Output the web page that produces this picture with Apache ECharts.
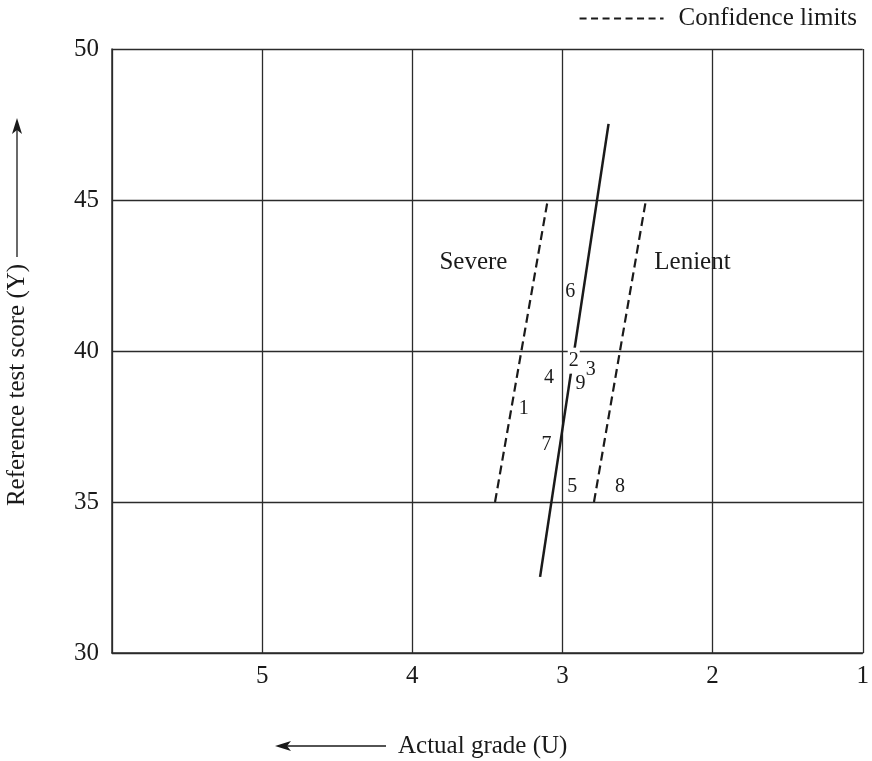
<!DOCTYPE html>
<html>
<head>
<meta charset="utf-8">
<script src="https://cdn.jsdelivr.net/npm/echarts@6/dist/echarts.min.js"></script>
<style>
html,body{margin:0;padding:0;background:#fff;}
#chart{width:872px;height:761px;}
</style>
</head>
<body>
<div id="chart"></div>
<script>
// ---- data ----
const xMin = 1, xMax = 6, xStep = 1;
const yMin = 30, yMax = 50, yStep = 5;
const regressionLine = [[3.149, 32.52], [2.693, 47.52]];
const severeLimit = [[3.449, 35], [3.098, 45]];
const lenientLimit = [[2.790, 35], [2.444, 45]];
const pointLabels = ['1', '2', '3', '4', '5', '6', '7', '8', '9'];
const pointX = [3.257, 2.925, 2.812, 3.089, 2.934, 2.948, 3.107, 2.616, 2.879];
const pointY = [38.08, 39.68, 39.37, 39.10, 35.51, 41.96, 36.89, 35.51, 38.93];
const regionLabels = ['Severe', 'Lenient'];
const regionX = [3.593, 2.134];
const regionY = [42.94, 42.94];
const xTitle = 'Actual grade (U)';
const yTitle = 'Reference test score (Y)';
const legendText = 'Confidence limits';

const FONT = '"Liberation Serif", serif';
const INK = '#1a1a1a';
const GRIDC = '#2b2b2b';

const chart = echarts.init(document.getElementById('chart'));
const pts = pointLabels.map((l, i) => ({
  name: l, value: [pointX[i], pointY[i]],
  label: l === '2' ? {backgroundColor: '#fff', padding: [3, 1, 3, 1]} : {}
}));
const regs = regionLabels.map((l, i) => ({name: l, value: [regionX[i], regionY[i]]}));

const labelBase = {show: true, position: 'inside', formatter: p => p.name,
  fontFamily: FONT, color: INK, opacity: 1, textBorderWidth: 0, textShadowBlur: 0};

chart.setOption({
  animation: false,
  backgroundColor: '#fff',
  grid: {left: 112, right: 6, top: 49, bottom: 108, containLabel: false},
  legend: {
    data: [legendText], right: 10, top: 1, itemWidth: 84, itemHeight: 20, itemGap: 10,
    itemStyle: {opacity: 0},
    lineStyle: {type: [7, 4.5], width: 2, color: INK},
    textStyle: {fontFamily: FONT, fontSize: 25, color: INK, padding: [0, 0, 0, 10]}
  },
  xAxis: {
    type: 'value', inverse: true, min: xMin, max: xMax, interval: xStep,
    axisLine: {show: true, lineStyle: {color: GRIDC, width: 1.5}},
    axisTick: {show: false},
    axisLabel: {fontFamily: FONT, fontSize: 25, color: INK, margin: 11,
      formatter: v => v === xMax ? '' : String(v)},
    splitLine: {show: true, lineStyle: {color: GRIDC, width: 1.3}}
  },
  yAxis: {
    type: 'value', min: yMin, max: yMax, interval: yStep,
    axisLine: {show: true, lineStyle: {color: GRIDC, width: 1.5}},
    axisTick: {show: false},
    axisLabel: {fontFamily: FONT, fontSize: 25, color: INK, margin: 13},
    splitLine: {show: true, lineStyle: {color: GRIDC, width: 1.3}}
  },
  series: [
    {type: 'line', name: 'Regression', data: regressionLine, symbol: 'none', z: 3,
      lineStyle: {color: INK, width: 2.5}},
    {type: 'line', name: legendText, data: severeLimit, symbol: 'none', z: 3,
      lineStyle: {color: INK, width: 2.2, type: [9, 5]}, itemStyle: {color: INK}},
    {type: 'line', name: legendText, data: lenientLimit, symbol: 'none', z: 3,
      lineStyle: {color: INK, width: 2.2, type: [9, 5]}, itemStyle: {color: INK}},
    {type: 'scatter', name: 'pts', data: pts, symbolSize: 0, z: 6,
      itemStyle: {opacity: 1, color: INK},
      label: Object.assign({}, labelBase, {fontSize: 20})},
    {type: 'scatter', name: 'regions', data: regs, symbolSize: 0, z: 6,
      itemStyle: {opacity: 1, color: INK},
      label: Object.assign({}, labelBase, {fontSize: 25})}
  ],
  graphic: [
    {type: 'text', x: 17, y: 385, rotation: Math.PI / 2,
      style: {text: yTitle, font: '25px ' + FONT, fill: INK, textAlign: 'center', textVerticalAlign: 'middle'}},
    {type: 'line', shape: {x1: 17, y1: 257, x2: 17, y2: 128}, style: {stroke: INK, lineWidth: 1.3}},
    {type: 'polygon', shape: {points: [[17, 118], [22, 134], [17, 130], [12, 134]]}, style: {fill: INK}},
    {type: 'text', x: 398, y: 746,
      style: {text: xTitle, font: '25px ' + FONT, fill: INK, textAlign: 'left', textVerticalAlign: 'middle'}},
    {type: 'line', shape: {x1: 386, y1: 746, x2: 285, y2: 746}, style: {stroke: INK, lineWidth: 1.3}},
    {type: 'polygon', shape: {points: [[275, 746], [291, 741], [287, 746], [291, 751]]}, style: {fill: INK}}
  ]
});
</script>
</body>
</html>
